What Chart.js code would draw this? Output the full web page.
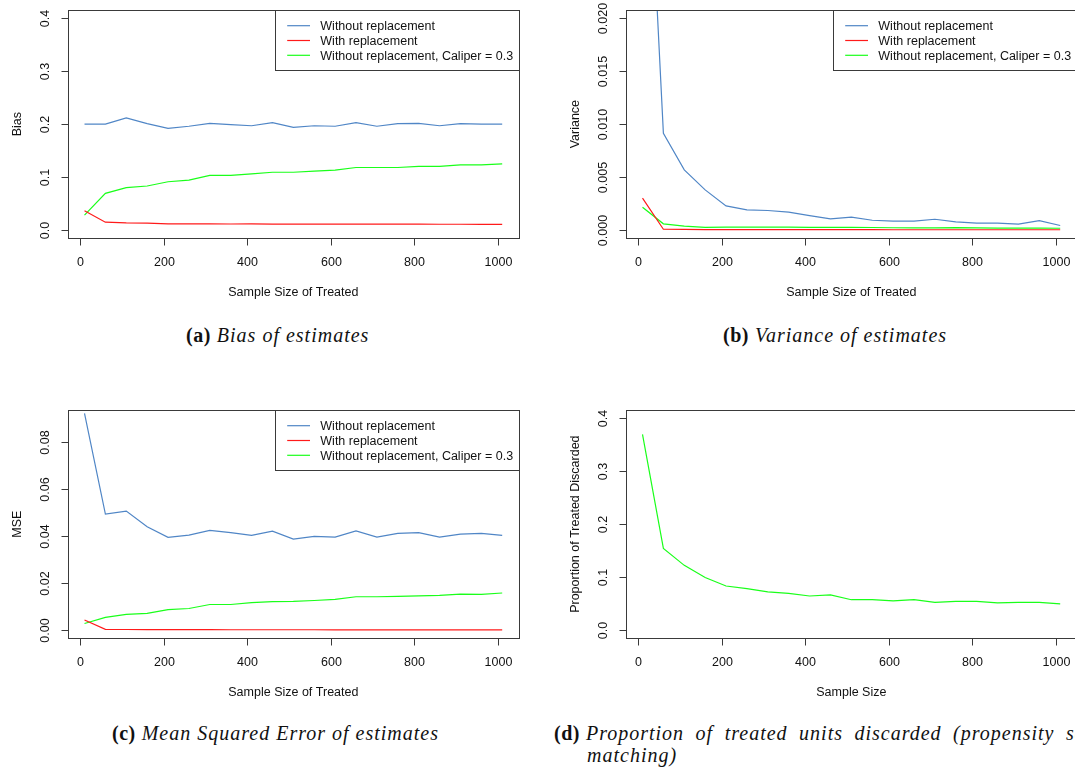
<!DOCTYPE html>
<html lang="en">
<head>
<meta charset="utf-8">
<title>Matching simulation: bias, variance, MSE</title>
<script src="https://cdn.jsdelivr.net/npm/chart.js@4.4.1/dist/chart.umd.min.js"></script>
<style>
  html, body { margin: 0; padding: 0; background: #fff; overflow: hidden; }
  #page { position: relative; width: 1075px; height: 774px; overflow: hidden; }
  .panel { position: absolute; width: 540px; height: 310px; }
  .cap { position: absolute; font-family: "Liberation Serif", "Times New Roman", serif; font-size: 20px;
         letter-spacing: 1px; line-height: 22px; color: #111; white-space: nowrap; font-style: italic; }
  .cap b { font-style: normal; letter-spacing: 0.5px; }
  .cap .just { word-spacing: 5.5px; }
</style>
</head>
<body>
<div id="page">
  <div class="panel" style="left:0;top:0"><canvas id="bias"></canvas></div>
  <div class="panel" style="left:558px;top:0"><canvas id="variance"></canvas></div>
  <div class="panel" style="left:0;top:400px"><canvas id="mse"></canvas></div>
  <div class="panel" style="left:558px;top:400px"><canvas id="discarded"></canvas></div>

  <div class="cap" style="left:186px;top:324px"><b>(a)</b> Bias of estimates</div>
  <div class="cap" style="left:723px;top:324px"><b>(b)</b> Variance of estimates</div>
  <div class="cap" style="left:112px;top:722px"><b>(c)</b> Mean Squared Error of estimates</div>
  <div class="cap" style="left:554px;top:722px"><b>(d)</b> <span class="just">Proportion of treated units discarded (propensity score</span></div>
  <div class="cap" style="left:587px;top:744px">matching)</div>
</div>
<script>
// simulation sizes (number of treated units)
var sampleSize = [10, 60, 110, 160, 210, 260, 310, 360, 410, 460, 510,
                  560, 610, 660, 710, 760, 810, 860, 910, 960, 1010];

var seriesNames = ['Without replacement', 'With replacement', 'Without replacement, Caliper = 0.3'];

var biasWithout = [0.200, 0.200, 0.212, 0.201, 0.192, 0.196, 0.2015, 0.199, 0.197, 0.203, 0.194,
                   0.197, 0.196, 0.203, 0.196, 0.201, 0.2015, 0.197, 0.201, 0.200, 0.200];
var biasWith    = [0.036, 0.0145, 0.013, 0.0126, 0.0112, 0.0112, 0.0113, 0.0111, 0.0112, 0.0110, 0.0110,
                   0.0109, 0.0110, 0.0108, 0.0108, 0.0109, 0.0107, 0.0106, 0.0106, 0.0105, 0.0105];
var biasCaliper = [0.028, 0.069, 0.080, 0.083, 0.091, 0.094, 0.103, 0.103, 0.106, 0.109, 0.109,
                   0.111, 0.113, 0.118, 0.118, 0.118, 0.120, 0.120, 0.123, 0.123, 0.125];

var varWithout = [0.0486, 0.00913, 0.00567, 0.00378, 0.00227, 0.00189, 0.00183, 0.00167, 0.00135, 0.00104, 0.00120,
                  0.00091, 0.00082, 0.00082, 0.00100, 0.00076, 0.00063, 0.00063, 0.00054, 0.00088, 0.00041];
var varWith    = [0.00300, 0.00006, 0.00004, 0.00003, 0.00003, 0.00002, 0.00002, 0.00002, 0.00002, 0.00002, 0.00002,
                  0.00002, 0.00001, 0.00001, 0.00001, 0.00001, 0.00001, 0.00001, 0.00001, 0.00001, 0.00001];
var varCaliper = [0.00214, 0.00057, 0.00035, 0.00024, 0.00025, 0.00025, 0.00026, 0.00025, 0.00024, 0.00024, 0.00024,
                  0.00022, 0.00020, 0.00018, 0.00019, 0.00021, 0.00018, 0.00017, 0.00017, 0.00016, 0.00015];

var mseWithout = [0.0924, 0.0494, 0.0507, 0.0440, 0.0395, 0.0405, 0.0425, 0.0415, 0.0404, 0.0422, 0.0388,
                  0.0399, 0.0396, 0.0423, 0.0396, 0.0412, 0.0415, 0.0396, 0.0409, 0.0412, 0.0404];
var mseWith    = [0.0043, 0.0003, 0.00025, 0.0002, 0.00018, 0.00017, 0.00016, 0.00015, 0.00015, 0.00014, 0.00014,
                  0.00014, 0.00013, 0.00013, 0.00013, 0.00013, 0.00012, 0.00012, 0.00012, 0.00012, 0.00012];
var mseCaliper = [0.0028, 0.0054, 0.0067, 0.0071, 0.0087, 0.0092, 0.0109, 0.0109, 0.0117, 0.0121, 0.0122,
                  0.0126, 0.0131, 0.0142, 0.0142, 0.0144, 0.0146, 0.0148, 0.0153, 0.0152, 0.0158];

var propDiscarded = [0.370, 0.154, 0.122, 0.099, 0.083, 0.078, 0.072, 0.069, 0.064, 0.066, 0.057,
                     0.057, 0.055, 0.057, 0.052, 0.054, 0.054, 0.051, 0.052, 0.052, 0.049];

var xTickLabels = ['0', '200', '400', '600', '800', '1000'];
var biasTickLabels = ['0.0', '0.1', '0.2', '0.3', '0.4'];
var varTickLabels = ['0.000', '0.005', '0.010', '0.015', '0.020'];
var mseTickLabels = ['0.00', '0.02', '0.04', '0.06', '0.08'];
var propTickLabels = ['0.0', '0.1', '0.2', '0.3', '0.4'];

var lineColors = ['#5086c6', '#ff1a1a', '#1aff1a'];
var FONT = '12.5px "Liberation Sans", Arial, Helvetica, sans-serif';

function points(values) {
  return values.map(function (v, i) { return { x: sampleSize[i], y: v }; });
}

// base-graphics style frame: box, outward ticks, rotated y labels, boxed legend
var rFrame = {
  id: 'rFrame',
  afterDraw: function (chart, args, opts) {
    var ctx = chart.ctx, a = chart.chartArea;
    var xs = chart.scales.x, ys = chart.scales.y;
    var L = Math.round(a.left) + 0.5, R = Math.round(a.right) + 0.5;
    var T = Math.round(a.top) + 0.5, B = Math.round(a.bottom) + 0.5;
    function seg(x1, y1, x2, y2) { ctx.beginPath(); ctx.moveTo(x1, y1); ctx.lineTo(x2, y2); ctx.stroke(); }

    ctx.save();
    ctx.strokeStyle = '#3a3a3a';
    ctx.lineWidth = 1;
    ctx.fillStyle = '#111';
    ctx.font = FONT;
    ctx.textBaseline = 'alphabetic';

    // legend first so the box line sits on top of it
    if (opts.legend) {
      var sets = chart.data.datasets;
      var tw = 0;
      sets.forEach(function (d) { tw = Math.max(tw, ctx.measureText(d.label).width); });
      var lx = Math.round(a.right - 5.9 - tw - 10.3 - 22.8 - 11.7) + 0.5;
      var lb = Math.round(a.top + 59.7) + 0.5;
      ctx.fillStyle = '#fff';
      ctx.fillRect(lx, T, R - lx, lb - T);
      ctx.strokeRect(lx, T, R - lx, lb - T);
      sets.forEach(function (d, i) {
        var ry = a.top + 15.7 + i * 14.8;
        ctx.save();
        ctx.strokeStyle = d.borderColor;
        ctx.lineWidth = 1.2;
        seg(lx + 11.7, ry, lx + 34.5, ry);
        ctx.restore();
        ctx.fillStyle = '#111';
        ctx.textAlign = 'left';
        ctx.fillText(d.label, lx + 44.8, ry + 4.2);
      });
    }

    ctx.strokeRect(L, T, R - L, B - T);
    ctx.textAlign = 'center';
    ctx.fillStyle = '#111';

    opts.xTicks.forEach(function (lab) {
      var px = Math.round(xs.getPixelForValue(Number(lab))) + 0.5;
      seg(px, B, px, B + 7);
      ctx.fillText(lab, px, a.bottom + 28);
    });
    opts.yTicks.forEach(function (lab) {
      var py = Math.round(ys.getPixelForValue(Number(lab))) + 0.5;
      seg(L - 7, py, L, py);
      ctx.save();
      ctx.translate(a.left - 18.6, py);
      ctx.rotate(-Math.PI / 2);
      ctx.fillText(lab, 0, 0);
      ctx.restore();
    });

    ctx.fillText(opts.xTitle, (a.left + a.right) / 2, a.bottom + 57.2);
    ctx.save();
    ctx.translate(a.left - 47.3, (a.top + a.bottom) / 2);
    ctx.rotate(-Math.PI / 2);
    ctx.fillText(opts.yTitle, 0, 0);
    ctx.restore();
    ctx.restore();
  }
};

function makeChart(id, seriesList, yMin, yMax, yTicks, yTitle, xTitle, legend) {
  var datasets = seriesList.map(function (s) {
    return {
      label: s.name,
      data: points(s.values),
      borderColor: s.color,
      borderWidth: 1.2,
      pointRadius: 0,
      tension: 0,
      fill: false
    };
  });
  var canvas = document.getElementById(id);
  return new Chart(canvas.getContext('2d'), {
    type: 'line',
    data: { datasets: datasets },
    options: {
      responsive: false,
      animation: false,
      events: [],
      layout: { padding: { left: 67.8, right: 21.1, top: 10, bottom: 71.7 } },
      scales: {
        x: { type: 'linear', display: false, min: -30, max: 1050 },
        y: { type: 'linear', display: false, min: yMin, max: yMax }
      },
      plugins: {
        legend: { display: false },
        tooltip: { enabled: false },
        rFrame: { xTicks: xTickLabels, yTicks: yTicks, xTitle: xTitle, yTitle: yTitle, legend: legend }
      }
    },
    plugins: [rFrame]
  });
}

function threeSeries(a, b, c) {
  return [
    { name: seriesNames[0], values: a, color: lineColors[0] },
    { name: seriesNames[1], values: b, color: lineColors[1] },
    { name: seriesNames[2], values: c, color: lineColors[2] }
  ];
}

['bias', 'variance', 'mse', 'discarded'].forEach(function (id) {
  var c = document.getElementById(id);
  c.width = 540; c.height = 310;
  c.style.width = '540px'; c.style.height = '310px';
});

makeChart('bias', threeSeries(biasWithout, biasWith, biasCaliper),
  -0.016, 0.416, biasTickLabels, 'Bias', 'Sample Size of Treated', true);
makeChart('variance', threeSeries(varWithout, varWith, varCaliper),
  -0.0008, 0.0208, varTickLabels, 'Variance', 'Sample Size of Treated', true);
makeChart('mse', threeSeries(mseWithout, mseWith, mseCaliper),
  -0.0035, 0.0938, mseTickLabels, 'MSE', 'Sample Size of Treated', true);
makeChart('discarded', [{ name: 'Proportion discarded', values: propDiscarded, color: lineColors[2] }],
  -0.016, 0.416, propTickLabels, 'Proportion of Treated Discarded', 'Sample Size', false);
</script>
</body>
</html>
